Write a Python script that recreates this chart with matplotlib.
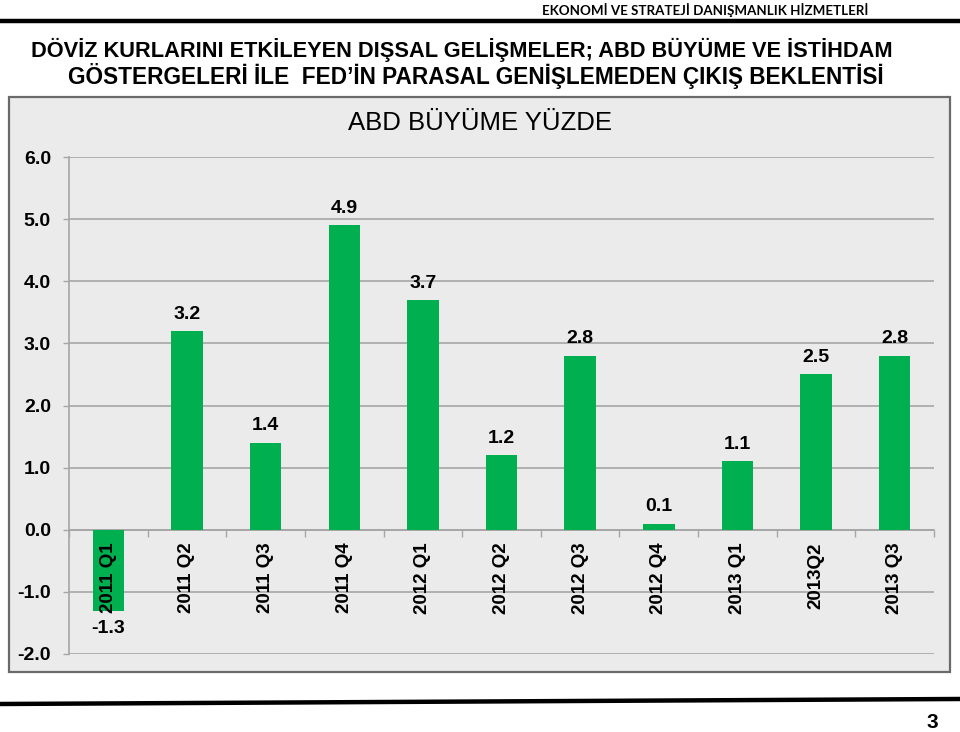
import matplotlib
matplotlib.use("Agg")
import matplotlib.pyplot as plt
from matplotlib import font_manager
from matplotlib.patches import Rectangle
from matplotlib.lines import Line2D

categories = ["2011 Q1", "2011 Q2", "2011 Q3", "2011 Q4", "2012 Q1", "2012 Q2",
              "2012 Q3", "2012 Q4", "2013 Q1", "2013Q2", "2013 Q3"]
values = [-1.3, 3.2, 1.4, 4.9, 3.7, 1.2, 2.8, 0.1, 1.1, 2.5, 2.8]
yticks = [-2.0, -1.0, 0.0, 1.0, 2.0, 3.0, 4.0, 5.0, 6.0]

title_lines = ["DÖVİZ KURLARINI ETKİLEYEN DIŞSAL GELİŞMELER; ABD BÜYÜME VE İSTİHDAM",
               "GÖSTERGELERİ İLE  FED’İN PARASAL GENİŞLEMEDEN ÇIKIŞ BEKLENTİSİ"]
header = "EKONOMİ VE STRATEJİ DANIŞMANLIK HİZMETLERİ"
chart_title = "ABD BÜYÜME YÜZDE"
page_no = "3"


def have(name):
    try:
        font_manager.findfont(font_manager.FontProperties(family=name), fallback_to_default=False)
        return True
    except Exception:
        return False


ARIAL = "Liberation Sans"
NARROW = "Liberation Sans Narrow" if have("Liberation Sans Narrow") else ARIAL
HEAD = "Lato" if have("Lato") else ARIAL

W, H = 960, 732
fig = plt.figure(figsize=(W / 100, H / 100), dpi=100)
fig.patch.set_facecolor("white")


def fx(x):
    return x / W


def fy(y):
    return 1 - y / H


renderer = fig.canvas.get_renderer()


def fit_text(txt, cx, cy, width, **kw):
    t = fig.text(fx(cx), fy(cy), txt, ha="center", va="center", fontsize=20, **kw)
    bb = t.get_window_extent(renderer=renderer)
    t.set_fontsize(20 * width / bb.width)
    return t


# header
fit_text(header, 705, 10, 325, family=HEAD, fontweight="bold", color="black")
fig.add_artist(Line2D([0, 1], [fy(21), fy(21)], transform=fig.transFigure, color="black", lw=3.2))

# main title
fit_text(title_lines[0], 462, 50, 860, family=NARROW, fontweight="bold", color="black")
fit_text(title_lines[1], 476, 76, 816, family=NARROW, fontweight="bold", color="black")

# chart box
fig.add_artist(Rectangle((fx(9), fy(672)), fx(950) - fx(9), fy(97) - fy(672),
                         transform=fig.transFigure, facecolor="#EBEBEB",
                         edgecolor="#6A6A6A", lw=1.6, zorder=0))

# bottom line and page number
fig.add_artist(Line2D([0, fx(958)], [fy(704), fy(699)], transform=fig.transFigure, color="black", lw=3.2))
fig.text(fx(932), fy(722), page_no, ha="center", va="center", fontsize=15,
         family=ARIAL, fontweight="bold")

# plot axes
ax = fig.add_axes([fx(69), fy(654), fx(934) - fx(69), fy(157) - fy(654)])
ax.set_facecolor("none")
ax.set_xlim(-0.5, len(categories) - 0.5)
ax.set_ylim(-2, 6)
x = list(range(len(categories)))
ax.bar(x, values, width=0.4, color="#00B050", zorder=3)

ax.set_yticks(yticks)
ax.set_yticklabels([f"{v:.1f}" for v in yticks], family=ARIAL, fontweight="bold", fontsize=14)
ax.yaxis.grid(True, color="#A6A6A6", lw=1.2, zorder=1)
ax.xaxis.grid(False)
for s in ["top", "right"]:
    ax.spines[s].set_visible(False)
ax.spines["left"].set_color("#A6A6A6")
ax.spines["left"].set_linewidth(1.2)
ax.spines["bottom"].set_position(("data", 0))
ax.spines["bottom"].set_color("#A6A6A6")
ax.spines["bottom"].set_linewidth(1.2)
ax.tick_params(axis="y", length=4, width=1, color="#A6A6A6", pad=9)
ax.set_xticks([i - 0.5 for i in range(len(categories) + 1)])
ax.set_xticklabels([])
ax.tick_params(axis="x", length=5, width=1, color="#A6A6A6", direction="out")

for i, (c, v) in enumerate(zip(categories, values)):
    ax.annotate(c, xy=(i, 0), xytext=(0, -9), textcoords="offset points",
                rotation=90, ha="center", va="top", family=ARIAL,
                fontweight="bold", fontsize=13.5, zorder=5)
    if v >= 0:
        ax.annotate(f"{v:.1f}", xy=(i, v), xytext=(0, 6), textcoords="offset points",
                    ha="center", va="bottom", family=ARIAL, fontweight="bold", fontsize=14)
    else:
        ax.annotate(f"{v:.1f}", xy=(i, v), xytext=(0, -7), textcoords="offset points",
                    ha="center", va="top", family=ARIAL, fontweight="bold", fontsize=14)

fit_text(chart_title, 480, 123, 264, family=NARROW, color="black")

fig.savefig("out.png", dpi=100)
